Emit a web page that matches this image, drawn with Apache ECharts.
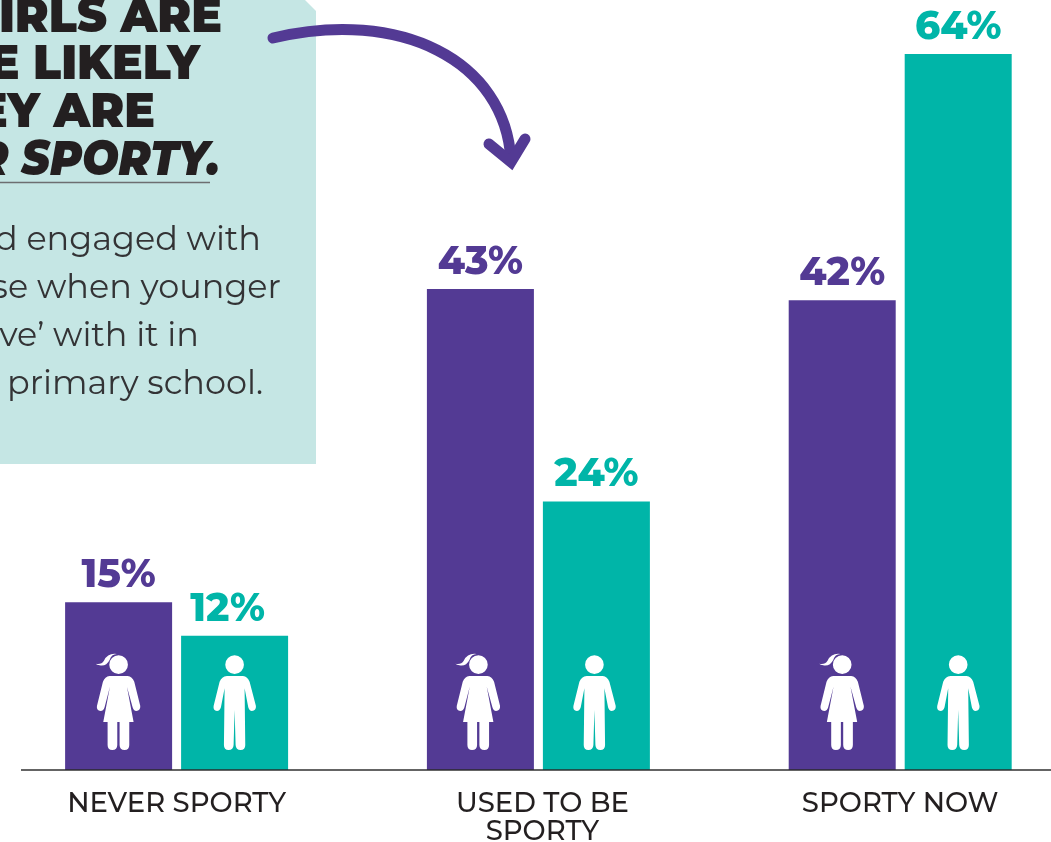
<!DOCTYPE html>
<html><head><meta charset="utf-8">
<style>html,body{margin:0;padding:0;background:#fff;overflow:hidden}#c{width:1051px;height:842px}</style>
<script src="https://cdn.jsdelivr.net/npm/echarts@6/dist/echarts.min.js"></script>
</head><body><div id="c"></div>
<script>
const categories = ['NEVER SPORTY', 'USED TO BE\nSPORTY', 'SPORTY NOW'];
const girls = [15, 43, 42];
const boys = [12, 24, 64];
const headline = ['IRLS ARE', 'E LIKELY', 'EY ARE'];
const headlineItalic = 'R SPORTY.';
const bodyLines = ['d engaged with', 'se when younger', 've’ with it in', 'primary school.'];
const PURPLE = '#533a94', TEAL = '#00b5a8', PANEL = '#c5e6e4', INK = '#231f20';
const FONT = 'Montserrat, Inter, "Open Sans", sans-serif';

const girlPath = 'M150 138L204 138Q218 140 224 155L242 228Q243 242 230 243Q222 243 219 232L202 170L222 276L209 276L209 345Q209 360 195 360Q180 360 180 345L180 276L173 276L173 345Q173 360 158 360Q144 360 144 345L144 276L131 276L151 170L135 232Q132 243 123 243Q110 242 112 228L130 155Q136 140 150 138Z' +
  'M149 104A28 28 0 1 0 205 104A28 28 0 1 0 149 104Z' +
  'M108 101Q125 105 133 92Q145 68 172 72Q155 72 150 90Q140 110 120 106Q112 105 108 101Z';
const boyPath = 'M500 138L548 138Q562 140 568 155L587 228Q588 242 575 243Q567 243 564 232L553 175L555 345Q555 360 541 360Q527 360 526 345L523 240L520 345Q519 360 505 360Q491 360 491 345L493 175L482 232Q479 243 470 243Q458 242 460 228L478 155Q484 140 500 138Z' +
  'M495 104A28 28 0 1 0 551 104A28 28 0 1 0 495 104Z';

const chart = echarts.init(document.getElementById('c'), null, {renderer:'canvas', width:1051, height:842});

const barLabel = color => ({show:true, position:'top', distance:7, color, fontFamily:FONT, fontSize:39, fontWeight:800, formatter:'{c}%'});

const textEl = (text, right, base, style, sx) => ({type:'text', x:right, y:base, z:5, scaleX:sx||1,
  style:Object.assign({text, textAlign:'right', textVerticalAlign:'bottom', fontFamily:FONT}, style)});
const headStyle = {fill:INK, fontSize:48, fontWeight:900};
const bodyStyle = {fill:'#333335', fontSize:34, fontWeight:400};

chart.setOption({
  animation:false,
  grid:{left:-4.3, width:1085.4, top:54, bottom:72, containLabel:false, outerBoundsMode:'none'},
  xAxis:{type:'category',
    data:categories.map((c,i)=> i===1 ? {value:c, textStyle:{padding:[0,0,0,8]}} : c),
    axisLine:{show:false}, axisTick:{show:false},
    axisLabel:{color:INK, fontFamily:FONT, fontSize:27.5, fontWeight:500, lineHeight:28, margin:20}},
  yAxis:{type:'value', min:0, max:64, show:false, splitLine:{show:false}},
  series:[
    {name:'Girls', type:'bar', data:girls, barWidth:107, barGap:'8.4%', itemStyle:{color:PURPLE}, label:barLabel(PURPLE)},
    {name:'Boys', type:'bar', data:boys.map((v,i)=> i===0 ? {value:v, label:{offset:[-7,0]}} : v), barWidth:107, itemStyle:{color:TEAL}, label:barLabel(TEAL)},
    {name:'Icons', type:'custom', data:categories.map((c,i)=>[i]), encode:{x:0}, z:4, silent:true,
      renderItem(params, api){
        const p = api.coord([api.value(0), 0]);
        const top = 630, dx = 58, nudge = api.value(0) === 1 ? -2 : 0;
        return {type:'group', children:[
          {type:'path', x:p[0]+nudge-dx-177/3, y:top, scaleX:1/3, scaleY:1/3, shape:{pathData:girlPath}, style:{fill:'#fff'}},
          {type:'path', x:p[0]+nudge+dx-523/3, y:top, scaleX:1/3, scaleY:1/3, shape:{pathData:boyPath}, style:{fill:'#fff'}}
        ]};
      }}
  ],
  graphic:{elements:[
    {type:'polygon', z:-1, shape:{points:[[0,0],[305,0],[316,11],[316,464],[0,464]]}, style:{fill:PANEL}},
    textEl(headline[0], 222, 42, headStyle, 0.95),
    textEl(headline[1], 200, 89, headStyle, 0.95),
    textEl(headline[2], 155, 137, headStyle, 0.95),
    textEl(headlineItalic, 220, 185, Object.assign({fontStyle:'italic'}, headStyle), 0.9),
    {type:'line', z:5, shape:{x1:0,y1:182.5,x2:210,y2:182.5}, style:{stroke:'#6d6e70', lineWidth:1.5}},
    textEl(bodyLines[0], 261, 257, bodyStyle, 0.985),
    textEl(bodyLines[1], 281, 305, bodyStyle, 0.985),
    textEl(bodyLines[2], 199, 353, bodyStyle, 0.985),
    textEl(bodyLines[3], 263, 401, bodyStyle, 0.985),
    {type:'bezierCurve', z:6, shape:{x1:273,y1:38,cpx1:400,cpy1:8,cpx2:505,cpy2:60,x2:511,y2:160}, style:{fill:'none', stroke:PURPLE, lineWidth:11, lineCap:'round'}},
    {type:'polyline', z:6, shape:{points:[[489,144],[511,162],[525,139]]}, style:{fill:'none', stroke:PURPLE, lineWidth:11, lineCap:'round', lineJoin:'miter'}},
    {type:'line', z:7, shape:{x1:21,y1:770,x2:1051,y2:770}, style:{stroke:'rgba(40,40,40,0.72)', lineWidth:2}}
  ]}
});
</script></body></html>
